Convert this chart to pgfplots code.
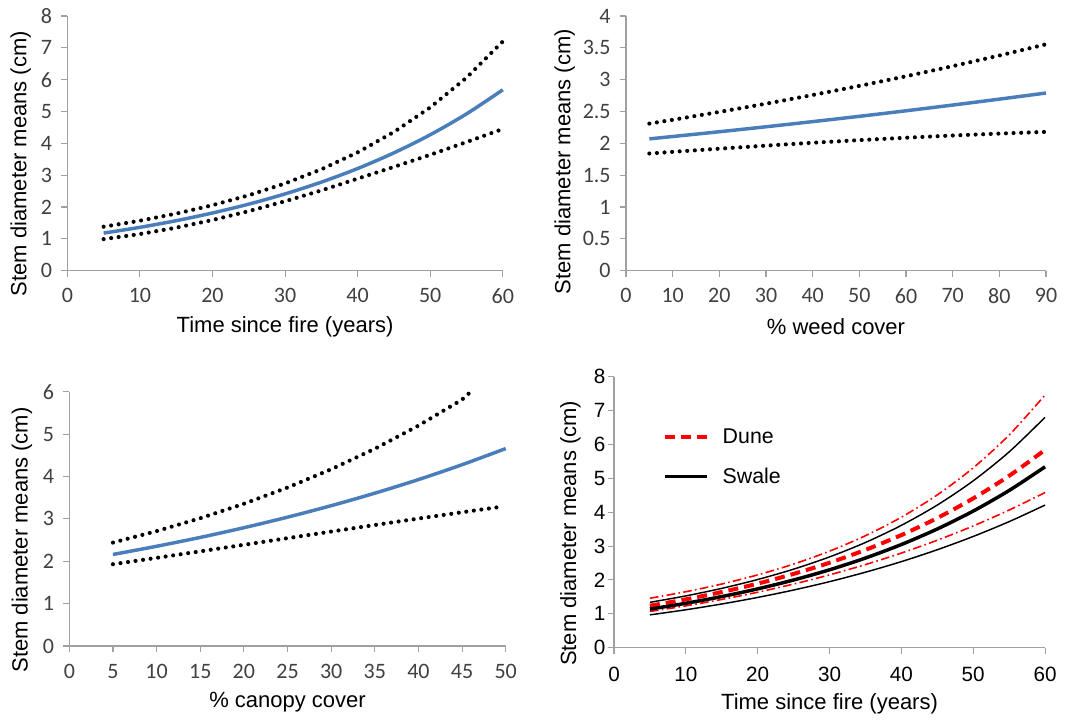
\documentclass[border=0pt]{standalone}
\usepackage{fontspec}
\setmainfont{Liberation Sans}
\newfontfamily\calibri{Carlito}
\usepackage{pgfplots}
\pgfplotsset{compat=1.18}

\definecolor{meanblue}{HTML}{4A7EBB}
\definecolor{axisgray}{HTML}{A0A0A0}
\definecolor{ticktext}{HTML}{404040}

\pgfplotsset{
  panel/.style={
    scale only axis, anchor=south west, clip=false,
    axis x line*=bottom, axis y line*=left,
    axis line style={axisgray, line width=0.8pt},
    major tick style={axisgray, line width=0.8pt},
    tick align=outside, major tick length=4.5pt,
    /pgf/number format/assume math mode=true,
    tick label style={font=\calibri\fontsize{16.5}{19}\selectfont, text=ticktext},
    xticklabel style={yshift=-5.5pt},
    yticklabel style={xshift=-3.5pt},
    every axis y label/.style={rotate=90, anchor=center, font=\fontsize{16.5}{19}\selectfont},
    every axis x label/.style={at={([yshift=-42pt]rel axis cs:0.5,0)}, anchor=center, font=\fontsize{16.5}{19}\selectfont},
  },
  ci/.style={black, line width=3.1pt, dash pattern=on 0pt off 5.7pt, line cap=round},
  fit/.style={meanblue, line width=2.6pt},
}

\begin{document}
\begin{tikzpicture}
\path[use as bounding box] (0,0) rectangle (801pt,540pt);

% Top left: diameter against time since fire
\begin{axis}[panel, at={(50.5pt,337pt)}, width=326.6pt, height=191pt,
  xmin=0, xmax=60, ymin=0, ymax=8,
  xtick={0,10,...,60}, ytick={0,1,...,8},
  xlabel={Time since fire (years)},
  ylabel={Stem diameter means (cm)},
  ylabel style={at={([xshift=-35pt]rel axis cs:0,0.42)}}]
\addplot[ci] coordinates {(5,1.380) (10,1.569) (15,1.792) (20,2.056) (25,2.368) (30,2.740) (35,3.184) (40,3.716) (45,4.356) (50,5.128) (55,6.063) (60,7.200)};
\addplot[ci] coordinates {(5,0.99) (10,1.15) (15,1.35) (20,1.59) (25,1.87) (30,2.18) (35,2.52) (40,2.89) (45,3.26) (50,3.64) (55,4.04) (60,4.45)};
\addplot[fit, smooth] coordinates {(5,1.180) (10,1.361) (15,1.570) (20,1.812) (25,2.090) (30,2.411) (35,2.781) (40,3.208) (45,3.701) (50,4.269) (55,4.925) (60,5.681)};
\end{axis}

% Top right: diameter against weed cover
\begin{axis}[panel, at={(469.5pt,337pt)}, width=315pt, height=191pt,
  xmin=0, xmax=90, ymin=0, ymax=4,
  xtick={0,10,...,90}, ytick={0,0.5,...,4},
  xlabel={\% weed cover},
  ylabel={Stem diameter means (cm)},
  ylabel style={at={([xshift=-46pt]rel axis cs:0,0.428)}}]
\addplot[ci] coordinates {(5,2.310) (10,2.369) (20,2.493) (30,2.622) (40,2.759) (50,2.902) (60,3.053) (70,3.212) (80,3.379) (90,3.555)};
\addplot[ci] coordinates {(5,1.840) (10,1.866) (20,1.916) (30,1.964) (40,2.009) (50,2.050) (60,2.088) (70,2.123) (80,2.153) (90,2.180)};
\addplot[fit, smooth] coordinates {(5,2.070) (10,2.107) (20,2.182) (30,2.260) (40,2.341) (50,2.424) (60,2.511) (70,2.601) (80,2.694) (90,2.790)};
\end{axis}

% Bottom left: diameter against canopy cover
\begin{axis}[panel, at={(52pt,55.5pt)}, width=327.3pt, height=190.7pt,
  xmin=0, xmax=50, ymin=0, ymax=6,
  xtick={0,5,...,50}, ytick={0,1,...,6},
  xlabel={\% canopy cover},
  ylabel={Stem diameter means (cm)},
  ylabel style={at={([xshift=-35.5pt]rel axis cs:0,0.417)}}]
\addplot[ci] coordinates {(5,2.440) (10,2.711) (15,3.015) (20,3.356) (25,3.739) (30,4.170) (35,4.654) (40,5.200) (45,5.815) (46,6.000)};
\addplot[ci] coordinates {(5,1.930) (10,2.080) (15,2.233) (20,2.388) (25,2.544) (30,2.700) (35,2.855) (40,3.007) (45,3.156) (49.3,3.280)};
\addplot[fit, smooth] coordinates {(5,2.160) (10,2.353) (15,2.562) (20,2.791) (25,3.040) (30,3.311) (35,3.606) (40,3.927) (45,4.278) (50,4.659)};
\end{axis}

% Bottom right: dune and swale sites against time since fire
\begin{axis}[panel, at={(460.5pt,54.2pt)}, width=323.3pt, height=203.3pt,
  xmin=0, xmax=60, ymin=0, ymax=8,
  xtick={0,10,...,60}, ytick={0,1,...,8},
  tick label style={font=\fontsize{15.5}{18}\selectfont, text=black},
  yticklabel style={xshift=5pt},
  xticklabel style={yshift=-1pt},
  xlabel={Time since fire (years)},
  ylabel={Stem diameter means (cm)},
  ylabel style={at={([xshift=-32.6pt]rel axis cs:0,0.422)}},
  legend style={at={(rel axis cs:0.114,0.82)}, anchor=north west, draw=none, fill=none,
    font=\fontsize{16}{19}\selectfont, row sep=13pt, inner sep=0pt, cells={anchor=west},
    /tikz/every odd column/.append style={column sep=8pt}},
  legend image code/.code={\draw[#1] (0pt,0pt) -- (31.5pt,0pt);}]
\addplot[red, line width=1.2pt, dash pattern=on 6.5pt off 2.5pt on 1.2pt off 2.5pt, smooth, forget plot] coordinates {(5,1.460) (10,1.653) (15,1.880) (20,2.150) (25,2.469) (30,2.850) (35,3.306) (40,3.852) (45,4.511) (50,5.309) (55,6.278) (60,7.460)};
\addplot[red, line width=1.2pt, dash pattern=on 6.5pt off 2.5pt on 1.2pt off 2.5pt, smooth, forget plot] coordinates {(5,1.070) (10,1.236) (15,1.425) (20,1.638) (25,1.879) (30,2.150) (35,2.454) (40,2.794) (45,3.173) (50,3.594) (55,4.063) (60,4.580)};
\addplot[black, line width=1.1pt, smooth, forget plot] coordinates {(5,1.340) (10,1.530) (15,1.752) (20,2.013) (25,2.319) (30,2.680) (35,3.106) (40,3.612) (45,4.211) (50,4.926) (55,5.780) (60,6.800)};
\addplot[black, line width=1.1pt, smooth, forget plot] coordinates {(5,0.970) (10,1.120) (15,1.291) (20,1.484) (25,1.703) (30,1.950) (35,2.229) (40,2.541) (45,2.892) (50,3.284) (55,3.722) (60,4.210)};
\addplot[red, line width=3pt, dash pattern=on 7.5pt off 4.5pt, smooth] coordinates {(5,1.240) (10,1.428) (15,1.644) (20,1.892) (25,2.179) (30,2.508) (35,2.888) (40,3.325) (45,3.828) (50,4.407) (55,5.074) (60,5.840)};
\addlegendentry{Dune}
\addplot[black, line width=2.6pt, smooth] coordinates {(5,1.140) (10,1.312) (15,1.510) (20,1.737) (25,1.999) (30,2.300) (35,2.647) (40,3.046) (45,3.505) (50,4.033) (55,4.641) (60,5.340)};
\addlegendentry{Swale}
\end{axis}
\end{tikzpicture}
\end{document}
